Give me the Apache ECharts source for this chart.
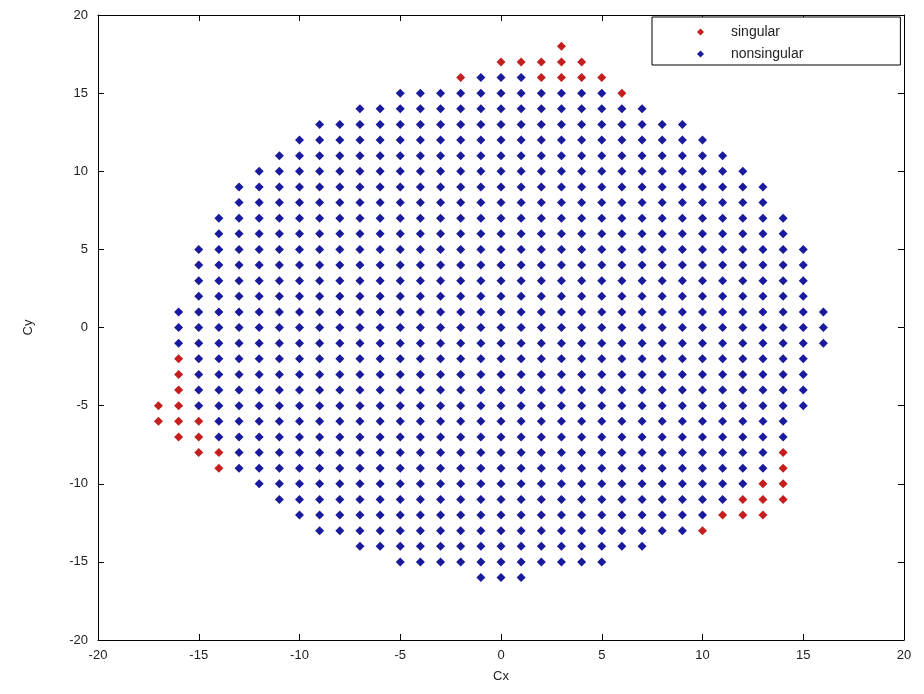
<!DOCTYPE html>
<html>
<head>
<meta charset="utf-8">
<script src="https://cdn.jsdelivr.net/npm/echarts@6/dist/echarts.min.js"></script>
<style>
  html, body { margin: 0; padding: 0; background: #fff; }
  #chart { width: 924px; height: 694px; }
</style>
</head>
<body>
<div id="chart"></div>
<script>
// Grid columns: each Cx column is filled with integer Cy values from top down to bottom.
const colX      = [-17, -16, -15, -14, -13, -12, -11, -10, -9, -8, -7, -6, -5, -4, -3, -2, -1, 0, 1, 2, 3, 4, 5, 6, 7, 8, 9, 10, 11, 12, 13, 14, 15, 16];
const colTop    = [ -5,   1,   5,   7,   9,  10,  11,  12, 13, 13, 14, 14, 15, 15, 15, 16, 16, 17, 17, 17, 18, 17, 16, 15, 14, 13, 13, 12, 11, 10,  9,  7,  5,  1];
const colBottom = [ -6,  -7,  -8,  -9,  -9, -10, -11, -12, -13, -13, -14, -14, -15, -15, -15, -15, -16, -16, -16, -15, -15, -15, -15, -14, -14, -13, -13, -13, -12, -12, -12, -11, -5, -1];

// Singular configurations
const singularX = [-17, -17, -16, -16, -16, -16, -16, -16, -15, -15, -15, -14, -14, -2, 0, 1, 2, 2, 3, 3, 3, 4, 4, 5, 6, 10, 11, 12, 12, 13, 13, 13, 14, 14, 14, 14];
const singularY = [ -5,  -6,  -2,  -3,  -4,  -5,  -6,  -7,  -6,  -7,  -8,  -8,  -9, 16, 17, 17, 16, 17, 16, 17, 18, 16, 17, 16, 15, -13, -12, -11, -12, -10, -11, -12, -8, -9, -10, -11];

const axisTicks = [-20, -15, -10, -5, 0, 5, 10, 15, 20];

const singular = singularX.map((x, i) => [x, singularY[i]]);
const singularKeys = new Set(singular.map(p => p[0] + ',' + p[1]));
const nonsingular = [];
colX.forEach((x, i) => {
  for (let y = colTop[i]; y >= colBottom[i]; y--) {
    if (!singularKeys.has(x + ',' + y)) nonsingular.push([x, y]);
  }
});

const font = 'Liberation Sans, Arial, sans-serif';
const labelStyle = { color: '#222', fontSize: 13, fontFamily: font };

function axis(dim, pos, showLabels) {
  return {
    type: 'value', position: pos, min: axisTicks[0], max: axisTicks[axisTicks.length - 1], interval: 5,
    axisLine: { show: true, onZero: false, lineStyle: { color: '#000', width: 1 } },
    axisTick: { show: true, inside: true, length: 6, lineStyle: { color: '#000' } },
    axisLabel: Object.assign({ show: showLabels, margin: dim === 'x' ? 9 : 10 }, labelStyle),
    splitLine: { show: false }
  };
}

const xMain = Object.assign(axis('x', 'bottom', true), {
  name: 'Cx', nameLocation: 'middle', nameGap: 30,
  nameTextStyle: { color: '#222', fontSize: 13, fontFamily: font }
});
const yMain = Object.assign(axis('y', 'left', true), {
  name: 'Cy', nameLocation: 'middle', nameGap: 63,
  nameTextStyle: { color: '#222', fontSize: 13, fontFamily: font }
});

const chart = echarts.init(document.getElementById('chart'), null, { renderer: 'canvas' });
chart.setOption({
  animation: false,
  backgroundColor: '#fff',
  grid: { left: 98, right: 20, top: 15, bottom: 54, containLabel: false },
  xAxis: [xMain, Object.assign(axis('x', 'top', false), { gridIndex: 0 })],
  yAxis: [yMain, Object.assign(axis('y', 'right', false), { gridIndex: 0 })],
  legend: {
    orient: 'vertical', left: 652, top: 17,
    padding: [8, 97, 4, 45], itemGap: 8,
    itemWidth: 7, itemHeight: 7,
    backgroundColor: '#fff', borderColor: '#000', borderWidth: 1, borderRadius: 0,
    textStyle: { color: '#222', fontSize: 14, fontFamily: font, padding: [0, 0, 0, 22] },
    data: ['singular', 'nonsingular']
  },
  series: [
    {
      name: 'singular', type: 'scatter', data: singular,
      symbol: 'diamond', symbolSize: 9,
      itemStyle: { color: '#c41e1e', opacity: 1 }
    },
    {
      name: 'nonsingular', type: 'scatter', data: nonsingular,
      symbol: 'diamond', symbolSize: 9,
      itemStyle: { color: '#1a1a9c', opacity: 1 }
    }
  ]
});
</script>
</body>
</html>
